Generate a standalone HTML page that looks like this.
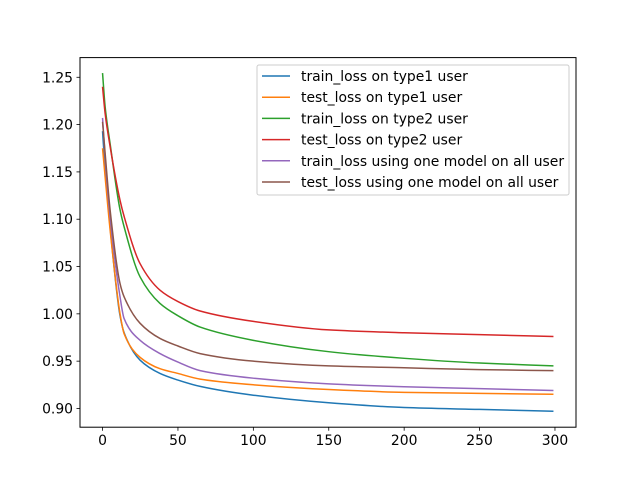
<!DOCTYPE html>
<html><head><meta charset="utf-8"><style>
body{margin:0;background:#fff}
svg text{font-family:"DejaVu Sans","Liberation Sans",sans-serif;font-size:13.9px;fill:#000}
</style></head><body>
<svg id="chart" width="640" height="480">
<rect width="640" height="480" fill="#fff"/>
<g id="lines"></g>
<rect x="80" y="57.6" width="496" height="369.6" fill="none" stroke="#000" stroke-width="1"/>
<g id="ticks"></g>
<g id="legend"></g>
</svg>
<script>
const epochs = [0,1.7,5,11.6,14.3,24.9,38.1,50,64.7,100,150,200,250,299];
const trainType1 = [1.193,1.153,1.092,0.998,0.980,0.951,0.937,0.930,0.9233,0.914,0.906,0.901,0.899,0.897];
const testType1  = [1.175,1.145,1.089,1.000,0.979,0.954,0.942,0.937,0.931,0.925,0.920,0.917,0.916,0.915];
const trainType2 = [1.2545,1.219,1.180,1.110,1.092,1.039,1.011,0.998,0.986,0.972,0.960,0.953,0.948,0.945];
const testType2  = [1.240,1.212,1.177,1.120,1.103,1.053,1.025,1.013,1.003,0.992,0.983,0.980,0.978,0.976];
const trainAll   = [1.207,1.166,1.103,1.018,0.995,0.972,0.958,0.949,0.940,0.932,0.926,0.923,0.921,0.919];
const testAll    = [1.203,1.170,1.110,1.032,1.018,0.990,0.974,0.966,0.958,0.950,0.945,0.943,0.941,0.940];
const seriesNames = ["train_loss on type1 user","test_loss on type1 user","train_loss on type2 user","test_loss on type2 user","train_loss using one model on all user","test_loss using one model on all user"];
const xTicks = [0,50,100,150,200,250,300];
const yTicks = [0.90,0.95,1.00,1.05,1.10,1.15,1.20,1.25];

const series=[trainType1,testType1,trainType2,testType2,trainAll,testAll];
const colors=["#1f77b4","#ff7f0e","#2ca02c","#d62728","#9467bd","#8c564b"];
const L=80,R=576,T=57.6,B=427.2,x0=-14.95,x1=313.95,y0=0.8802,y1=1.2708;
const sx=v=>L+(v-x0)/(x1-x0)*(R-L);
const sy=v=>B-(v-y0)/(y1-y0)*(B-T);
const NS="http://www.w3.org/2000/svg";
function mk(t,a,p){const e=document.createElementNS(NS,t);for(const k in a)e.setAttribute(k,a[k]);p.appendChild(e);return e;}
function monotone(xs,ys){
  const n=xs.length,d=[],m=new Array(n);
  for(let i=0;i<n-1;i++)d.push((ys[i+1]-ys[i])/(xs[i+1]-xs[i]));
  m[0]=d[0];m[n-1]=d[n-2];
  for(let i=1;i<n-1;i++){
    if(d[i-1]*d[i]<=0)m[i]=0;
    else{const h0=xs[i]-xs[i-1],h1=xs[i+1]-xs[i];const w1=2*h1+h0,w2=h1+2*h0;m[i]=(w1+w2)/(w1/d[i-1]+w2/d[i]);}
  }
  return m;
}
const lg=document.getElementById('lines');
series.forEach((s,i)=>{
  const m=monotone(epochs,s);
  let d='';
  for(let j=0;j<epochs.length-1;j++){
    const h=epochs[j+1]-epochs[j];
    const xa=epochs[j],xb=epochs[j+1];
    if(j===0)d+=`M${sx(xa)},${sy(s[j])}`;
    d+=` C${sx(xa+h/3)},${sy(s[j]+m[j]*h/3)} ${sx(xb-h/3)},${sy(s[j+1]-m[j+1]*h/3)} ${sx(xb)},${sy(s[j+1])}`;
  }
  const el=mk('path',{d:d,fill:'none',stroke:colors[i],'stroke-width':1.5},lg);
  
  
});
const tg=document.getElementById('ticks');
xTicks.forEach(v=>{
  const x=sx(v);
  mk('line',{x1:x,x2:x,y1:B,y2:B+3.5,stroke:'#000','stroke-width':0.8},tg);
  const t=mk('text',{x:x,y:B+18,'text-anchor':'middle'},tg);t.textContent=v;
  
  
});
yTicks.forEach(v=>{
  const y=sy(v);
  mk('line',{x1:L-3.5,x2:L,y1:y,y2:y,stroke:'#000','stroke-width':0.8},tg);
  const t=mk('text',{x:L-7,y:y+5,'text-anchor':'end'},tg);t.textContent=v.toFixed(2);
  
  
});
const leg=document.getElementById('legend');
const box=mk('rect',{x:257,y:65,width:312,height:130,rx:2,fill:'#fff','fill-opacity':0.8,stroke:'#ccc','stroke-width':1},leg);


seriesNames.forEach((n,i)=>{
  const y=76+i*21.2;
  mk('line',{x1:262,x2:290,y1:y,y2:y,stroke:colors[i],'stroke-width':1.5},leg);
  const t=mk('text',{x:301,y:y+5},leg);t.textContent=n;
  
  
});
</script>
</body></html>
